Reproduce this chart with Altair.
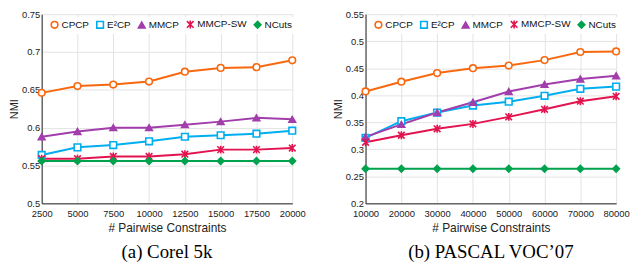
import altair as alt
import pandas as pd

methods = ["CPCP", "E²CP", "MMCP", "MMCP-SW", "NCuts"]
colors = ["#F8690F", "#00AEEF", "#A23EAB", "#E2134E", "#00A24E"]
fills = ["#FFFFFF", "#FFFFFF", "#A23EAB", "#E2134E", "#00A24E"]
star = "M-1,-1L1,1M-1,1L1,-1M0,-1.2L0,1.2"
shapes = ["circle", "square", "triangle-up", star, "diamond"]

# Corel 5k
x_a = [2500, 5000, 7500, 10000, 12500, 15000, 17500, 20000]
cpcp_a = [0.646, 0.655, 0.657, 0.661, 0.674, 0.679, 0.680, 0.689]
e2cp_a = [0.564, 0.574, 0.577, 0.582, 0.588, 0.590, 0.592, 0.596]
mmcp_a = [0.588, 0.595, 0.600, 0.600, 0.604, 0.608, 0.613, 0.611]
mmcpsw_a = [0.559, 0.559, 0.562, 0.562, 0.565, 0.571, 0.571, 0.573]
ncuts_a = [0.556, 0.556, 0.556, 0.556, 0.556, 0.556, 0.556, 0.556]

# PASCAL VOC'07
x_b = [10000, 20000, 30000, 40000, 50000, 60000, 70000, 80000]
cpcp_b = [0.407, 0.425, 0.441, 0.450, 0.455, 0.465, 0.480, 0.481]
e2cp_b = [0.321, 0.352, 0.368, 0.381, 0.388, 0.399, 0.412, 0.416]
mmcp_b = [0.323, 0.346, 0.368, 0.387, 0.407, 0.420, 0.430, 0.436]
mmcpsw_b = [0.313, 0.326, 0.338, 0.347, 0.360, 0.374, 0.389, 0.398]
ncuts_b = [0.264, 0.264, 0.264, 0.264, 0.264, 0.264, 0.264, 0.264]


def frame(xs, series):
    rows = []
    for m, vals in zip(methods, series):
        for xv, yv in zip(xs, vals):
            rows.append({"x": xv, "NMI": yv, "method": m})
    return pd.DataFrame(rows)


def panel(df, xs, ydom, yticks, caption):
    xsc = alt.Scale(domain=[xs[0], xs[-1]], nice=False, zero=False)
    ysc = alt.Scale(domain=ydom, nice=False, zero=False)
    xenc = alt.X("x:Q", scale=xsc, title="# Pairwise Constraints",
                 axis=alt.Axis(values=xs, format="d", labelPadding=5, titlePadding=5))
    yenc = alt.Y("NMI:Q", scale=ysc, title="NMI",
                 axis=alt.Axis(values=yticks, format="~g", labelPadding=2, titlePadding=2, titleFontSize=11))
    base = alt.Chart(df)
    line = base.mark_line(strokeWidth=2).encode(
        x=xenc, y=yenc,
        color=alt.Color("method:N", scale=alt.Scale(domain=methods, range=colors), legend=None),
        strokeWidth=alt.StrokeWidth("method:N", scale=alt.Scale(domain=methods, range=[2, 2, 2, 2, 3]), legend=None),
        detail="method:N",
    )
    leg = alt.Legend(orient="none", legendX=6, legendY=3, direction="horizontal",
                     columns=5, fillColor="white", padding=2,
                     symbolSize=45, symbolStrokeWidth=1.6,
                     labelFontSize=10, columnPadding=4, labelOffset=2,
                     labelFont="Liberation Sans", labelColor="#111")
    pts = base.mark_point(filled=True, opacity=1, size=45, strokeWidth=1.6).encode(
        x=xenc, y=yenc,
        stroke=alt.Stroke("method:N", scale=alt.Scale(domain=methods, range=colors), title=None, legend=leg),
        fill=alt.Fill("method:N", scale=alt.Scale(domain=methods, range=fills), title=None, legend=leg),
        shape=alt.Shape("method:N", scale=alt.Scale(domain=methods, range=shapes), title=None, legend=leg),
    )
    return alt.layer(line, pts).properties(
        width=253, height=191,
        title=alt.TitleParams(caption, orient="bottom", font="Liberation Serif", fontSize=19,
                              fontWeight="normal", anchor="middle", offset=10, color="black"),
    )


yt_a = [0.5, 0.55, 0.6, 0.65, 0.7, 0.75]
yt_b = [0.2, 0.25, 0.3, 0.35, 0.4, 0.45, 0.5, 0.55]

left = panel(frame(x_a, [cpcp_a, e2cp_a, mmcp_a, mmcpsw_a, ncuts_a]), x_a, [0.5, 0.75], yt_a, "(a) Corel 5k")
right = panel(frame(x_b, [cpcp_b, e2cp_b, mmcp_b, mmcpsw_b, ncuts_b]), x_b, [0.2, 0.55], yt_b, "(b) PASCAL VOC’07")

chart = alt.hconcat(left, right, spacing=26).resolve_scale(
    x="independent", y="independent"
).resolve_legend(stroke="independent", fill="independent", shape="independent").properties(
    padding={"left": 0, "top": 0, "right": 0, "bottom": 0}
).configure_axis(
    labelFont="Liberation Sans", labelFontSize=9.5, titleFont="Liberation Sans", titleFontSize=12,
    titleFontWeight="normal", labelColor="#222", titleColor="#222", gridColor="#e3e3e3",
    domainColor="#222", tickSize=0, labelFlush=False,
    labelOverlap=False,
).configure_view(stroke=None)

chart.save("out.html", embed_options={"renderer": "svg", "actions": False})
